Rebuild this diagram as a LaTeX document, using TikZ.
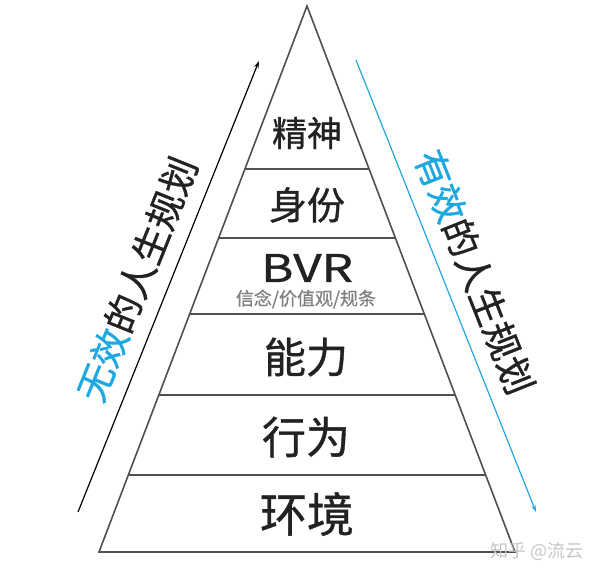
\documentclass[tikz,border=0pt]{standalone}
\usepackage{fontspec}
\newfontfamily\cjk{Noto Sans CJK SC}
\newfontfamily\cjkb[FakeBold=0.9]{Noto Sans CJK SC}
\usetikzlibrary{calc,arrows.meta}
\definecolor{lblue}{HTML}{1FA8DF}
\definecolor{ink}{HTML}{222222}
\definecolor{edge}{HTML}{505050}
\begin{document}
\begin{tikzpicture}[x=1pt,y=-1pt,
  edgeline/.style={draw=edge,line width=1.6pt,line join=miter},
  divline/.style={draw=edge,line width=1.4pt},
  level/.style={text=ink,inner sep=0pt,anchor=center},
  sidelabel/.style={font=\cjkb\fontsize{37}{40}\selectfont,text=ink,inner sep=0pt,anchor=center},
  arrowline/.style={line width=1.2pt,-{Stealth[length=7pt,width=4.5pt]}}]
\useasboundingbox (0,0) rectangle (600,577);
% pyramid corners
\coordinate (A) at (307,6);
\coordinate (BL) at (99,552);
\coordinate (BR) at (515,552);
\draw[edgeline] (A) -- (BL) -- (BR) -- cycle;
% dividers
\foreach \t/\n in {0.2985/1,0.4249/2,0.5641/3,0.7125/4,0.8590/5}{
  \coordinate (dl\n) at ($(A)!\t!(BL)$);
  \coordinate (dr\n) at ($(A)!\t!(BR)$);
  \draw[divline] (dl\n) -- (dr\n);
}
% level texts
\node[level,font=\cjkb\fontsize{35}{40}\selectfont] (jingshen) at (307,133) {精神};
\node[level,font=\cjkb\fontsize{38}{42}\selectfont] (shenfen) at (307,205) {身份};
\node[level,font=\cjkb\fontsize{38}{42}\selectfont] (bvr) at (307,268) {\scalebox{1.3}[1]{BVR}};
\node[level,font=\cjkb\fontsize{18}{20}\selectfont,text=gray] (bvrsub) at (306,299) {信念/价值观/规条};
\node[level,font=\cjkb\fontsize{42}{46}\selectfont] (nengli) at (306,357) {能力};
\node[level,font=\cjkb\fontsize{44}{48}\selectfont] (xingwei) at (306,437) {行为};
\node[level,font=\cjkb\fontsize{47}{50}\selectfont] (huanjing) at (307,514) {环境};
% left arrow
\coordinate (L1) at (78,512);
\coordinate (L2) at (259,61);
\draw[arrowline,draw=black] (L1) -- (L2);
\coordinate (LM) at ($(L1)!0.49!(L2)$);
\node[sidelabel,rotate=68.13] (leftlabel) at ($(LM)!32pt!90:(L2)$) {{\color{lblue}无效}的人生规划};
% right arrow
\coordinate (R1) at (356,60);
\coordinate (R2) at (536,512);
\draw[arrowline,draw=lblue] (R1) -- (R2);
\coordinate (RM) at ($(R1)!0.495!(R2)$);
\node[sidelabel,rotate=-68.3] (rightlabel) at ($(RM)!32pt!-90:(R1)$) {{\color{lblue}有效}的人生规划};
% watermark
\node[font=\cjk\fontsize{18}{20}\selectfont,text=gray!45,inner sep=0pt] (wm) at (537,551) {知乎 @流云};
\end{tikzpicture}
\end{document}
